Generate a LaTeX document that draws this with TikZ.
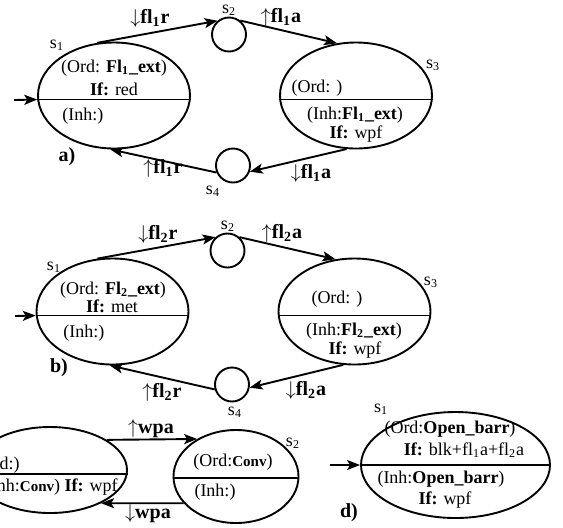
\documentclass[tikz,border=0pt]{standalone}
\usepackage{fontspec}
\setmainfont{Liberation Serif}
\usetikzlibrary{shapes.geometric,arrows.meta}
\newcommand{\cnv}{{\fontsize{7.5}{9}\selectfont\bfseries Conv}}
\tikzset{
  statebox/.style={ellipse, draw, line width=0.95pt, inner sep=0pt},
  bigstate/.style={statebox, minimum width=76pt, minimum height=53pt},
  relay/.style={circle, draw, line width=0.95pt, minimum size=17pt, inner sep=0pt},
  divider/.style={line width=0.95pt},
  flow/.style={-{Stealth[length=6.5pt, width=5pt, inset=1.5pt]}, line width=0.95pt},
  flowlab/.style={font=\bfseries, inner sep=0pt},
  statelab/.style={inner sep=0pt},
  cell/.style={inner sep=0pt},
  panellab/.style={font=\fontsize{10}{12}\selectfont\bfseries, inner sep=0pt},
}

\begin{document}
\begin{tikzpicture}[x=0.5pt, y=-0.5pt, font=\fontsize{9}{10}\selectfont]
\useasboundingbox (0,0) rectangle (563,527);
\clip (0,0) rectangle (563,527);
% panel a: flight 1
\node[bigstate] (s1a) at (114,95.5) {};
\node[bigstate] (s3a) at (356,95.5) {};
\node[relay] (s2a) at (229,34.5) {};
\node[relay] (s4a) at (233,165.5) {};
\draw[divider] (s1a.183) -- (s1a.-3);
\draw[divider] (s3a.183) -- (s3a.-3);
\coordinate (ina) at (14,100);
\draw[flow] (ina) -- (s1a.183);
\draw[flow] (s1a.108) -- (s2a.130);
\draw[flow] (s2a.51) -- (s3a.110);
\draw[flow] (s3a.260) -- (s4a.340);
\draw[flow] (s4a.203) -- (s1a.266);
\node[statelab] (l1a) at (57,45) {s\textsubscript{1}};
\node[statelab] (l2a) at (229,10) {s\textsubscript{2}};
\node[statelab] (l3a) at (433,65) {s\textsubscript{3}};
\node[statelab] (l4a) at (213,191) {s\textsubscript{4}};
\node[flowlab] (fa1) at (150,18) {$\downarrow$fl\textsubscript{1}r};
\node[flowlab] (fa2) at (281,17) {$\uparrow$fl\textsubscript{1}a};
\node[flowlab] (fa3) at (311,173) {$\downarrow$fl\textsubscript{1}a};
\node[flowlab] (fa4) at (163,168) {$\uparrow$fl\textsubscript{1}r};
\node[panellab] (pa) at (67,157) {a)};
\node[cell] (o1a) at (114,68) {(Ord: \textbf{Fl\textsubscript{1}\_ext})};
\node[cell] (f1a) at (114,89) {\textbf{If:} red};
\node[cell, anchor=west] (i1a) at (62,116) {(Inh:)};
\node[cell] (o3a) at (317,88) {(Ord: )};
\node[cell] (i3a) at (355,115) {(Inh:\textbf{Fl\textsubscript{1}\_ext})};
\node[cell] (f3a) at (356,134) {\textbf{If:} wpf};
% panel b: flight 2
\node[bigstate] (s1b) at (112.5,311.5) {};
\node[bigstate] (s3b) at (354.5,311.5) {};
\node[relay] (s2b) at (227.5,250.5) {};
\node[relay] (s4b) at (232,384.5) {};
\draw[divider] (s1b.183) -- (s1b.-3);
\draw[divider] (s3b.183) -- (s3b.-3);
\coordinate (inb) at (15,316);
\draw[flow] (inb) -- (s1b.183);
\draw[flow] (s1b.106) -- (s2b.132);
\draw[flow] (s2b.48) -- (s3b.110);
\draw[flow] (s3b.258) -- (s4b.350);
\draw[flow] (s4b.196) -- (s1b.267);
\node[statelab] (l1b) at (54,267) {s\textsubscript{1}};
\node[statelab] (l2b) at (228,226) {s\textsubscript{2}};
\node[statelab] (l3b) at (431,282) {s\textsubscript{3}};
\node[statelab] (l4b) at (235,412) {s\textsubscript{4}};
\node[flowlab] (fb1) at (158,234) {$\downarrow$fl\textsubscript{2}r};
\node[flowlab] (fb2) at (282,233) {$\uparrow$fl\textsubscript{2}a};
\node[flowlab] (fb3) at (306,390) {$\downarrow$fl\textsubscript{2}a};
\node[flowlab] (fb4) at (162,392) {$\uparrow$fl\textsubscript{2}r};
\node[panellab] (pb) at (59,368) {b)};
\node[cell] (o1b) at (113,290) {(Ord: \textbf{Fl\textsubscript{2}\_ext})};
\node[cell] (f1b) at (112,306) {\textbf{If:} met};
\node[cell, anchor=west] (i1b) at (63,333) {(Inh:)};
\node[cell] (o3b) at (337,299) {(Ord: )};
\node[cell] (i3b) at (354,331) {(Inh:\textbf{Fl\textsubscript{2}\_ext})};
\node[cell] (f3b) at (355,350) {\textbf{If:} wpf};
% panel c: conveyor, cut at the left edge
\node[statebox, minimum width=77pt, minimum height=43pt] (s1c) at (50,470) {};
\node[statebox, minimum width=62.5pt, minimum height=46.5pt] (s2c) at (236,476.5) {};
\draw[divider] (s1c.183) -- (s1c.-3);
\draw[divider] (s2c.181) -- (s2c.-1);
\draw[flow] (s1c.28.5) -- (s2c.136.7);
\draw[flow] (s2c.207.3) -- (s1c.-33.7);
\node[statelab] (l2c) at (293,443) {s\textsubscript{2}};
\node[flowlab] (fc1) at (151,429) {$\uparrow$wpa};
\node[flowlab] (fc2) at (148,514) {$\downarrow$wpa};
\node[cell, anchor=east] (o1c) at (20,465) {(Ord:)};
\node[cell, anchor=east] (i1c) at (118,487) {(Inh:\cnv) \textbf{If:} wpf};
\node[cell] (o2c) at (233,462) {(Ord:\cnv)};
\node[cell] (i2c) at (215,492) {(Inh:)};
% panel d: barrier
\node[statebox, minimum width=94.5pt, minimum height=53pt] (s1d) at (455.5,465) {};
\draw[divider] (s1d.west) -- (s1d.east);
\coordinate (ind) at (330,465);
\draw[flow] (ind) -- (s1d.west);
\node[statelab] (l1d) at (381,409) {s\textsubscript{1}};
\node[cell] (o1d) at (450,429) {(Ord:\textbf{Open\_barr})};
\node[cell] (f1d) at (464,450) {\textbf{If:} blk+fl\textsubscript{1}a+fl\textsubscript{2}a};
\node[cell] (i1d) at (441,479) {(Inh:\textbf{Open\_barr})};
\node[cell] (f2d) at (445,500) {\textbf{If:} wpf};
\node[panellab] (pd) at (349,513) {d)};
\end{tikzpicture}
\end{document}
